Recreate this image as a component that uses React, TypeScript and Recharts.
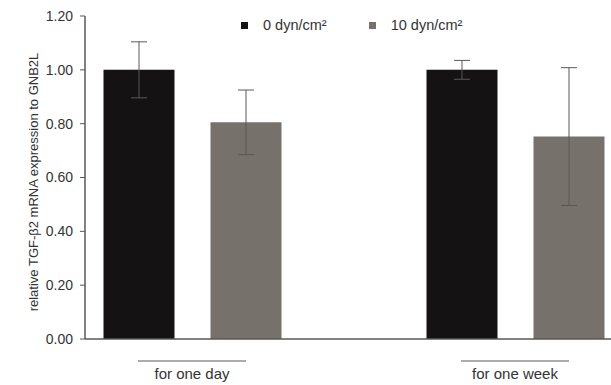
import { BarChart, Bar, XAxis, YAxis, ErrorBar, Legend } from 'recharts';

const categories = ['for one day', 'for one week'];
const static0 = [1.0, 1.0];
const static0Err = [0.104, 0.035];
const shear10 = [0.805, 0.752];
const shear10Err = [0.12, 0.256];
const yTicks = [0, 0.2, 0.4, 0.6, 0.8, 1.0, 1.2];

const data = categories.map((name, i) => ({
  name,
  d0: static0[i],
  d0Err: static0Err[i],
  d10: shear10[i],
  d10Err: shear10Err[i],
}));

const font = '"Liberation Sans", Arial, sans-serif';
const axisColor = '#595959';
const textColor = '#333333';

function CategoryTick(props: any) {
  const { x, y, payload } = props;
  return (
    <g>
      <line x1={x - 54} x2={x + 54} y1={y + 22} y2={y + 22} stroke={axisColor} strokeWidth={1} />
      <text x={x} y={y + 40} textAnchor="middle" fontSize={15} fontFamily={font} fill={textColor}>
        {payload.value}
      </text>
    </g>
  );
}

function LegendBox() {
  const items = [
    { label: '0 dyn/cm²', color: '#151214' },
    { label: '10 dyn/cm²', color: '#77716b' },
  ];
  return (
    <div style={{ display: 'flex', gap: 42, fontFamily: font, fontSize: 14.5, color: textColor, lineHeight: '17px' }}>
      {items.map((it) => (
        <div key={it.label} style={{ display: 'flex', alignItems: 'center' }}>
          <span style={{ width: 7, height: 7, background: it.color, display: 'inline-block', marginRight: 15 }} />
          {it.label}
        </div>
      ))}
    </div>
  );
}

export default function App() {
  return (
    <div style={{ position: 'absolute', left: 0, top: 0, background: '#fff' }}>
      <BarChart
        width={611}
        height={385}
        data={data}
        margin={{ top: 16, right: 0, bottom: 0, left: 25 }}
        barSize={71}
        barGap={36}
      >
        <XAxis
          dataKey="name"
          height={46}
          padding={{ left: -54.5, right: -65.5 }}
          axisLine={{ stroke: axisColor, strokeWidth: 1.5 }}
          tickLine={false}
          tickSize={0}
          tickMargin={0}
          tick={<CategoryTick />}
          interval={0}
        />
        <YAxis
          width={60}
          domain={[0, 1.2]}
          ticks={yTicks}
          tickFormatter={(v: number) => v.toFixed(2)}
          axisLine={{ stroke: axisColor, strokeWidth: 1.5 }}
          tickLine={{ stroke: axisColor }}
          tickSize={5}
          tickMargin={7}
          tick={{ fill: textColor, fontSize: 14, fontFamily: font }}
          label={{
            content: () => (
              <text
                x={33}
                y={182}
                transform="rotate(-90 33 182)"
                textAnchor="middle"
                dominantBaseline="central"
                fontSize={13}
                fontFamily={font}
                fill={textColor}
              >
                relative TGF-β2 mRNA expression to GNB2L
              </text>
            ),
          }}
        />
        <Legend
          layout="horizontal"
          verticalAlign="middle"
          content={<LegendBox />}
          wrapperStyle={{ position: 'absolute', top: 17, left: 241, width: 'auto', height: 'auto' }}
        />
        <Bar dataKey="d0" fill="#151214" isAnimationActive={false}>
          <ErrorBar dataKey="d0Err" width={8} stroke={axisColor} strokeWidth={1} />
        </Bar>
        <Bar dataKey="d10" fill="#77716b" isAnimationActive={false}>
          <ErrorBar dataKey="d10Err" width={8} stroke={axisColor} strokeWidth={1} />
        </Bar>
      </BarChart>
    </div>
  );
}
